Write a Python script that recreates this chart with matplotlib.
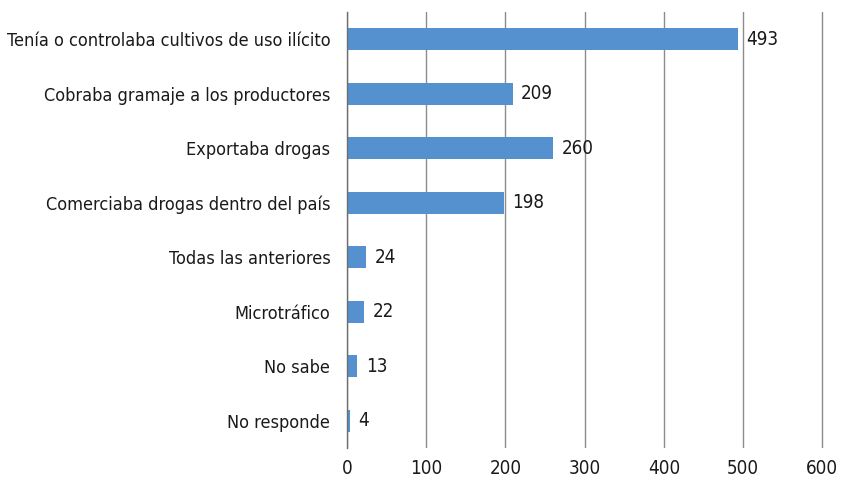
import matplotlib
matplotlib.use("Agg")
import matplotlib.pyplot as plt

categories = [
    "Tenía o controlaba cultivos de uso ilícito",
    "Cobraba gramaje a los productores",
    "Exportaba drogas",
    "Comerciaba drogas dentro del país",
    "Todas las anteriores",
    "Microtráfico",
    "No sabe",
    "No responde",
]
values = [493, 209, 260, 198, 24, 22, 13, 4]
x_ticks = [0, 100, 200, 300, 400, 500, 600]

BAR_COLOR = "#5591CF"
GRID_COLOR = "#8c8c8c"

plt.rcParams["font.family"] = ["DejaVu Sans"]
plt.rcParams["font.stretch"] = "condensed"

fig = plt.figure(figsize=(8.41, 4.82), dpi=100)
ax = fig.add_axes([347 / 841, 34 / 482, 477 / 841, 436 / 482])

pos = list(range(len(categories)))
ax.barh(pos, values, height=0.41, color=BAR_COLOR, zorder=3)

# value labels just right of each bar
for y, v in zip(pos, values):
    ax.annotate(str(v), xy=(v, y), xytext=(6, 0), textcoords="offset points",
                va="center", ha="left", fontsize=13.5, color="#1a1a1a")

ax.set_ylim(len(categories) - 0.5, -0.5)
ax.set_xlim(0, 602)
ax.set_xticks(x_ticks)
ax.set_yticks(pos)
ax.set_yticklabels(categories)
ax.tick_params(axis="x", length=0, labelsize=13.5, colors="#1a1a1a", pad=8)
ax.tick_params(axis="y", length=0, labelsize=13, colors="#1a1a1a", pad=12)

for s in ["top", "right", "bottom"]:
    ax.spines[s].set_visible(False)
ax.spines["left"].set_color("#6e6e6e")
ax.spines["left"].set_linewidth(1.0)
ax.spines["left"].set_zorder(4)

ax.xaxis.grid(True, color=GRID_COLOR, linewidth=1.0, zorder=0)
ax.set_axisbelow(True)

fig.savefig("out.png", dpi=100)
